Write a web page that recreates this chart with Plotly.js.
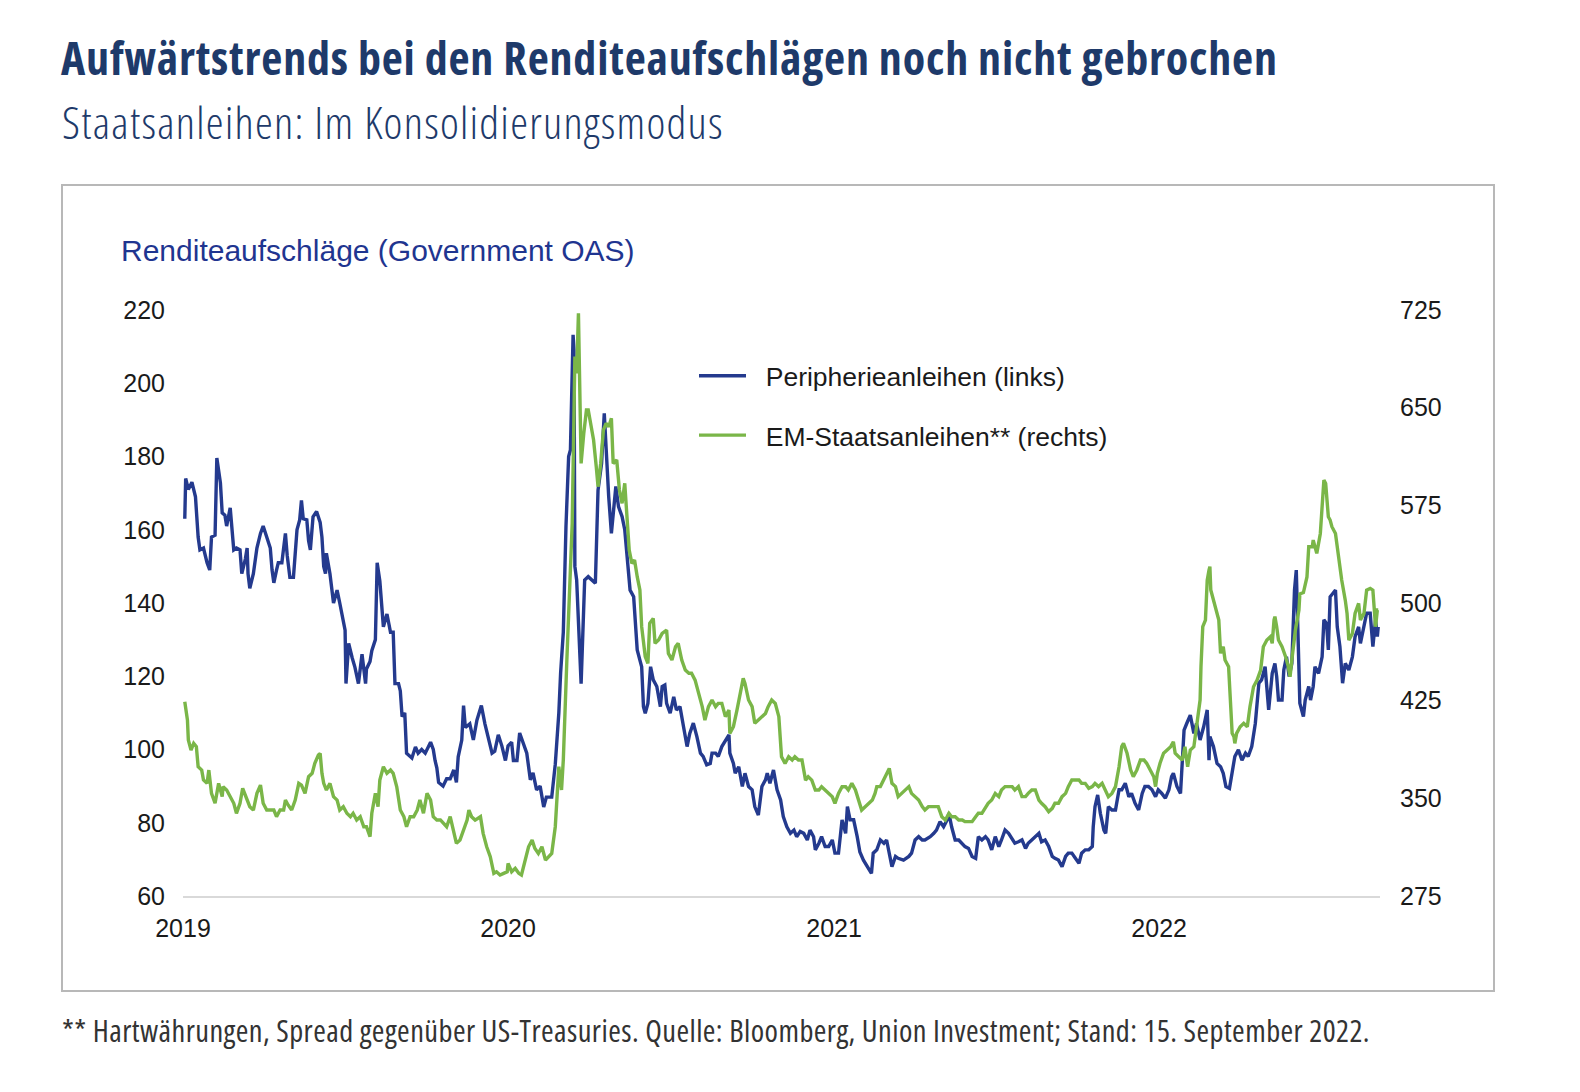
<!DOCTYPE html>
<html><head><meta charset="utf-8">
<script src="https://cdn.plot.ly/plotly-3.0.1.min.js"></script>
<style>
html,body{margin:0;padding:0;background:#fff}
#chart{width:1580px;height:1092px}
text.gtitle { font-stretch: 75%; letter-spacing: 0.82px; }
g.annotation[data-index="0"] text { font-stretch: 75%; letter-spacing: 1.27px; }
g.annotation[data-index="2"] text { font-stretch: 75%; letter-spacing: 0.43px; }
</style>
</head><body><div id="chart"></div>
<script>
// Dates are stored as days since 1 January 2019
const blueDays = [2,3,6,10,14,17,19,23,27,30,32,36,38,42,44,47,49,53,57,60,64,66,70,72,73,75,79,83,87,90,94,98,100,102,105,107,111,115,117,120,124,128,131,133,135,139,141,143,146,150,154,156,158,160,161,165,169,173,176,182,183,186,190,193,197,201,205,206,210,212,216,218,221,225,229,233,236,238,242,244,246,249,251,257,261,264,268,272,278,281,283,285,287,292,296,300,304,307,309,313,315,317,322,326,330,335,339,343,347,350,354,358,362,365,369,371,375,378,382,386,390,393,397,401,405,408,414,418,422,424,427,430,433,435,438,439,440,442,447,450,451,455,459,463,466,470,473,475,478,481,483,486,489,493,496,500,502,506,510,513,515,517,519,522,525,528,532,536,538,541,543,547,551,554,558,562,566,569,573,577,581,584,588,592,594,598,601,605,609,613,614,618,620,624,628,631,635,639,642,646,650,654,656,659,663,667,671,674,678,682,686,689,693,697,701,704,708,710,714,717,721,725,729,732,736,740,744,746,749,753,757,760,764,770,773,775,779,783,787,790,794,796,800,803,809,815,818,822,826,830,833,839,843,846,850,854,858,860,863,867,871,875,878,882,886,890,893,897,901,904,908,912,916,919,923,927,931,934,938,942,946,949,953,957,961,964,968,972,976,979,983,987,991,994,998,1002,1006,1009,1013,1017,1021,1022,1024,1027,1030,1034,1036,1039,1043,1047,1051,1054,1058,1062,1065,1069,1073,1077,1080,1084,1088,1092,1095,1099,1103,1107,1110,1112,1116,1120,1122,1124,1127,1131,1135,1138,1142,1146,1150,1152,1153,1157,1161,1165,1168,1171,1175,1178,1181,1185,1189,1193,1196,1200,1204,1208,1211,1215,1217,1219,1223,1226,1228,1230,1234,1236,1239,1242,1245,1248,1250,1253,1254,1258,1260,1264,1266,1269,1271,1275,1279,1281,1284,1286,1288,1291,1294,1296,1299,1302,1305,1309,1313,1316,1320,1322,1326,1329,1333,1336,1339,1341,1342];
const blueVals = [163,174,171,173,169,158,154.5,155,151,149,158,158.5,179.6,172.8,164.6,164,161,166,154.5,155,154.5,148,152,155,148,144,148,155,159,161,158,155,149,145.5,149,151,151,159,153,147,147,160,162.7,168,163,162.7,157,154.5,163.5,165,162,158,150,148,153.6,148,140,143.5,140,132.6,118,129,125,122.5,118,126,118,122,124,127,130,151,146,133.5,137,132,132,118,118,116,109,110,99,97.7,100.7,99,100,99,102,100,97,95,91,90,92,92,94.4,91,98,102.6,112,106,107,102.6,108,112,107,103,99,99.5,104,101,97,101,102,97,97,104.5,102,99,91.7,93.6,89,90,84.3,87,87,96,110,121,132,160.9,180,181.8,213.2,209,150,146.3,118,140,146.3,147.2,146.3,145.4,170.8,178.1,191.8,181.8,169,159,163.6,171.8,166.3,163.6,160,149,143.5,141.7,127.2,124.4,122.6,111.7,109.9,112.6,122.6,119,117.2,111.7,117.2,117.6,112.6,109.9,114.4,110.8,111.7,106.2,100.8,104.4,107.2,103.5,99,98.1,95.8,96.2,99,99,98.1,100.8,102.6,104,99,96.2,93.5,95.3,89.9,93.5,89.9,89,84.4,82.1,89.9,91.7,93.5,90.8,94.4,89,86.2,81.7,78.9,77.1,78,76.2,77.6,77.1,75.3,78,76.2,72.6,74.4,76.2,73.5,73.5,75.3,71.7,71.7,80.8,77.1,84.4,80.8,80.8,76.2,72,69.8,67.1,66.2,71.7,72.6,75.3,74.4,75.3,69.8,68,70.8,70.3,69.8,70.8,71.7,75.3,76.2,75.3,75.3,76.2,77.1,78,80.3,78.9,80.8,82.6,78.9,75.3,75.3,74.4,73.5,73,70.8,70.3,76.2,75.3,76.2,75.3,72.6,76.2,73.5,75.3,78,77.1,75.3,74.4,74.8,75.3,73,74.4,75.3,76.2,77.1,74.8,75.3,73.5,70.8,70.3,69.8,68,70.8,71.7,71.7,70.3,68.9,71.7,72.6,72.6,73.5,78.9,84.4,87.6,82.6,78,77.1,84.4,83.5,83.5,89,89,90.8,87.1,88,85.3,83.5,88,89.9,89.9,89,87.1,89,88,86.7,89,92.6,93.5,89.9,88,97.1,105.3,107.1,109.4,104.4,107.1,102.6,106.2,110.8,97.1,103.5,100.8,96.2,95.3,93.5,89.9,89.4,93.5,98.1,99.9,97.1,99,98.1,100.8,107.1,118.1,119,122.6,115.3,110.8,120.8,123.5,119.9,113.5,113.5,121.7,125.3,119.9,123.5,143.5,149,124.4,112.6,109,113.5,117.2,113.5,117.2,122.6,120.8,125.3,135.4,134.4,127.2,141.7,142.6,143.5,133.5,128.1,118.1,123.5,121.7,125.3,130.8,133.5,129,134.4,137.2,137.2,128.1,135.4,130.8,133.5];
const greenDays = [2,5,6,9,12,15,17,21,23,27,29,32,36,40,44,45,49,53,57,60,64,67,72,75,79,83,87,90,94,98,102,105,109,113,115,118,122,126,130,133,137,141,145,148,152,154,156,158,161,165,169,173,176,180,184,188,191,195,199,203,206,210,212,216,219,221,225,229,233,236,240,244,248,251,255,259,263,266,270,274,278,281,285,289,292,296,300,304,307,311,315,319,321,324,328,334,337,341,345,349,352,356,360,364,365,369,373,377,380,384,388,392,395,399,403,407,410,414,418,420,422,425,427,431,433,437,440,442,444,445,447,450,453,455,458,461,464,466,469,472,475,478,481,483,487,490,493,496,498,501,504,507,510,513,515,519,522,524,528,530,534,538,543,545,549,553,556,560,564,568,571,575,579,583,586,590,594,598,601,605,609,613,614,618,622,626,629,631,635,639,642,646,650,654,657,661,665,669,672,676,680,684,687,691,695,699,702,706,710,714,717,721,725,729,732,736,740,744,747,751,755,759,762,766,770,774,777,779,783,787,790,793,796,800,803,807,811,815,818,822,826,830,833,837,841,845,848,852,856,860,863,867,871,875,878,882,886,890,893,897,901,904,908,912,916,919,923,927,931,934,938,942,946,949,953,957,961,964,968,972,976,979,983,987,991,994,998,1002,1006,1009,1013,1017,1021,1024,1028,1032,1036,1039,1043,1047,1051,1054,1056,1060,1064,1067,1071,1075,1079,1082,1086,1090,1092,1094,1097,1101,1105,1109,1112,1114,1118,1122,1125,1128,1131,1135,1138,1142,1143,1145,1148,1150,1152,1153,1154,1156,1159,1163,1165,1166,1168,1170,1174,1176,1178,1180,1181,1183,1187,1191,1195,1198,1202,1206,1210,1213,1217,1221,1223,1225,1226,1228,1230,1234,1238,1241,1243,1245,1249,1253,1254,1258,1262,1264,1268,1269,1273,1277,1279,1281,1283,1284,1286,1288,1290,1294,1296,1298,1299,1301,1305,1307,1309,1313,1316,1320,1322,1326,1329,1333,1336,1339,1341,1342];
const greenVals = [424.2,410.1,394.8,387.1,392.2,389.7,374.3,371.7,364.1,361.5,371.7,353.8,346.2,361.5,351.3,359,356.4,351.3,346.2,338.5,346.2,357.7,348.7,343.6,341,353.8,360.2,346.2,341,341,341,335.9,341,341,348.7,344.9,341,348.7,361.5,360.2,353.8,366.6,369.2,376.9,383.3,384.5,369.2,361.5,356.4,361.5,351.3,348.7,341,343.6,338.5,335.9,338.5,333.4,335.9,328.2,328.2,320.6,338.5,353.8,343.6,364.1,374.3,369.2,371.7,369.2,358.9,341,335.9,328.2,335.9,335.9,341,348.7,338.5,353.8,348.7,335.9,333.4,333.4,330.8,328.2,335.9,323.1,315.4,318,325.7,333.4,341,335.9,333.3,335.9,323.1,312.8,305.2,292.4,293.6,291.1,292.4,293.6,300,293.6,296.2,292.4,291.1,302.6,312.8,317.9,311.6,307.7,312.8,302.6,305.2,307.7,328.2,353.8,374.3,356.4,379.4,456.2,497.2,561.2,689.2,676.4,722.4,689.2,607.2,630.3,648.2,648.2,638,625.2,604.7,589.3,607.2,632.8,638,635.4,641.8,607.2,609.8,586.8,576.5,591.9,571.4,540.7,530.4,533,520.2,510,481.8,458.8,453.6,484.4,488.2,469,471.6,476.7,479.2,461.3,456.2,466.4,469,456.2,448.5,446,446,440.8,430.6,420.4,410.1,420.4,425.5,420.4,422.9,422.9,412.7,417.8,399.9,405,417.8,430.6,442.1,438.3,425.5,420.4,407.6,410.1,412.7,415.2,420.4,425.5,422.9,412.7,382,376.8,382,379.4,382,379.4,379.4,364,366.6,364,356.4,356.4,358.9,356.4,353.8,351.2,346.1,353.8,358.9,358.9,356.4,361.5,356.4,348.7,341,343.6,346.1,348.7,353.8,359,359,364.1,369.2,373,361.5,359,351.3,353.8,356.4,359,353.8,351.3,348.7,343.6,341,343.6,343.6,343.6,343.6,335.9,333.4,338.5,335.9,335.9,333.4,333.4,332.1,332.1,332.1,335.9,338.5,338.5,343.6,346.2,348.7,353.8,351.3,356.4,359,359,359,356.4,359,351.3,351.3,353.8,356.4,356.4,348.7,346.2,343.6,339.8,342.3,346.2,346.2,351.3,353.8,359,364.1,364.1,364.1,361.5,361.5,357.7,359,361.5,359,361.5,356.4,351.3,353.8,359,374.3,389.7,392.2,384.6,371.8,366.6,371.8,379.4,379.4,376.9,371.8,366.6,359,369.2,376.9,384.6,387.1,389.7,393.5,384.6,382,379.4,389.6,374.3,387.1,389.6,405,425.5,451.1,481.8,486.9,517.6,525.3,527.9,510,504.8,497.2,486.9,461.3,463.9,466.4,456.2,451.1,422.9,399.9,397.3,392.2,399.9,405,407.6,405,420.4,435.7,440.8,448.5,466.4,471.6,474.1,469,486.9,489.5,481.8,471.6,466.4,458.8,451.1,443.4,456.2,479.2,494.6,507,508,520,543.2,543.2,548.3,538.1,553.4,571.4,594.4,591.8,581.6,566.2,563.7,558.6,553.4,543.2,533,530.4,517.6,502.2,492,471.5,476.6,492,499.7,486.9,492,509.9,511.2,509.9,481.8,494.6,494.6];
const leftTicks = [60,80,100,120,140,160,180,200,220];
const rightTicks = [275,350,425,500,575,650,725];
const yearTicks = ['2019-01-01','2020-01-01','2021-01-01','2022-01-01'];
const yearLabels = ['2019','2020','2021','2022'];
const seriesNames = ['Peripherieanleihen (links)','EM-Staatsanleihen** (rechts)'];

function toDate(d){ return new Date(Date.UTC(2019,0,1) + d*86400000).toISOString().slice(0,10); }

const sans = 'Liberation Sans, Arial, Helvetica, sans-serif';
const cond = '"Open Sans", "DejaVu Sans", sans-serif';
const axisFont = {family: sans, size: 25, color: '#1a1a1a'};
const pad = '\u00a0\u00a0';

const traces = [
  {x: blueDays.map(toDate), y: blueVals, type: 'scatter', mode: 'lines', name: pad + seriesNames[0],
   line: {color: '#243a8e', width: 3.4}, yaxis: 'y', legendgroup: 'a', hoverinfo: 'skip'},
  {x: greenDays.map(toDate), y: greenVals, type: 'scatter', mode: 'lines', name: pad + seriesNames[1],
   line: {color: '#7ab648', width: 3.4}, yaxis: 'y2', legendgroup: 'b', hoverinfo: 'skip'}
];

const L = 183, R = 200, T = 310, B = 196, W = 1580, H = 1092;
const pw = W - L - R, ph = H - T - B;
const px = v => (v - L) / pw;
const py = v => (H - B - v) / ph;

const layout = {
  width: W, height: H,
  margin: {l: L, r: R, t: T, b: B},
  paper_bgcolor: '#fff', plot_bgcolor: '#fff',
  title: {text: 'Aufwärtstrends bei den Renditeaufschlägen noch nicht gebrochen',
    xref: 'container', x: 61/W, xanchor: 'left', yref: 'container', y: 1 - 59/H, yanchor: 'middle',
    font: {family: cond, size: 46, weight: 700, color: '#1e3a6a'}},
  xaxis: {type: 'date', range: ['2019-01-01', '2022-09-06'], tickvals: yearTicks, ticktext: yearLabels,
    showgrid: false, zeroline: false, showline: true, linecolor: '#d9d9d9', linewidth: 1.5,
    ticks: '', tickfont: axisFont, ticklabelstandoff: 9},
  yaxis: {range: [60, 220], tickvals: leftTicks, showgrid: false, zeroline: false, showline: false,
    ticks: '', tickfont: axisFont, ticklabelstandoff: 17},
  yaxis2: {range: [275, 725], tickvals: rightTicks, overlaying: 'y', side: 'right', showgrid: false,
    zeroline: false, showline: false, ticks: '', tickfont: axisFont, ticklabelstandoff: 19},
  showlegend: true,
  legend: {x: px(694), y: py(352), xanchor: 'left', yanchor: 'top', bgcolor: 'rgba(0,0,0,0)',
    font: {family: sans, size: 26.5, color: '#1a1a1a'}, tracegroupgap: 22, itemwidth: 47},
  shapes: [{type: 'rect', xref: 'paper', yref: 'paper', x0: px(62), x1: px(1494), y0: py(991), y1: py(185),
    line: {color: '#b8b8b8', width: 2}, layer: 'below'}],
  annotations: [
    {text: 'Staatsanleihen: Im Konsolidierungsmodus', xref: 'paper', yref: 'paper', x: px(60), y: py(121),
     xanchor: 'left', yanchor: 'middle', align: 'left', showarrow: false,
     font: {family: cond, size: 45, weight: 300, color: '#1e3a6a'}},
    {text: 'Renditeaufschläge (Government OAS)', xref: 'paper', yref: 'paper', x: px(119), y: py(251),
     xanchor: 'left', yanchor: 'middle', align: 'left', showarrow: false, font: {family: sans, size: 30, color: '#1f3590'}},
    {text: '** Hartwährungen, Spread gegenüber US-Treasuries. Quelle: Bloomberg, Union Investment; Stand: 15. September 2022.',
     xref: 'paper', yref: 'paper', x: px(60), y: py(1030), xanchor: 'left', yanchor: 'middle', align: 'left', showarrow: false,
     font: {family: cond, size: 30.5, weight: 400, color: '#333333'}}
  ]
};

Plotly.newPlot('chart', traces, layout, {displayModeBar: false, staticPlot: true});
</script>
</body></html>
